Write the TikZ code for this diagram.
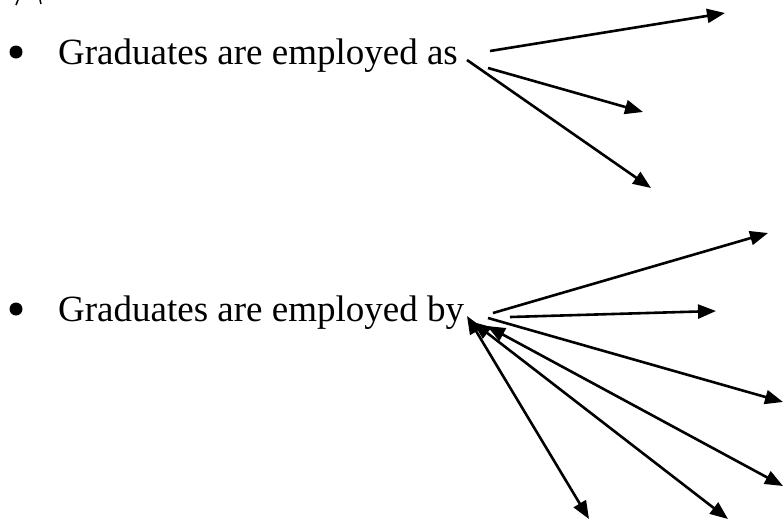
\documentclass[tikz,border=0pt]{standalone}
\usepackage{fontspec}
\setmainfont{Liberation Serif}
\usetikzlibrary{arrows.meta}

\begin{document}
\begin{tikzpicture}[x=1pt, y=-1pt,
  >={Triangle[length=18pt, width=14pt]},
  item/.style={anchor=base west, inner sep=0pt, font=\fontsize{37}{44}\selectfont},
  dot/.style={circle, fill=black, inner sep=0pt, minimum size=13pt},
  arr/.style={->, line width=2.6pt},
  darr/.style={<->, line width=2.6pt},
]

% Page frame
\useasboundingbox (0,0) rectangle (784,520);

% Cut-off glyph at the top edge
\draw[line width=1.5pt] (18,0) -- (16,5);
\draw[line width=1.5pt] (40,0) -- (41,4);

% =============================================
% Item 1: employed as
% =============================================
\node[dot] (dotas) at (16,52) {};
\node[item] (as) at (58,64) {Graduates are employed as};

\coordinate (as1s) at (490,51);
\coordinate (as1e) at (725,13);
\coordinate (as2s) at (488,68);
\coordinate (as2e) at (643,112);
\coordinate (as3s) at (467,60);
\coordinate (as3e) at (651,188);

\draw[arr] (as1s) -- (as1e);
\draw[arr] (as2s) -- (as2e);
\draw[arr] (as3s) -- (as3e);

% =============================================
% Item 2: employed by
% =============================================
\node[dot] (dotby) at (16,309) {};
\node[item] (by) at (58,321) {Graduates are employed by};

\coordinate (by1s) at (493,313);
\coordinate (by1e) at (768,233);
\coordinate (by2s) at (510,317);
\coordinate (by2e) at (716,311);
\coordinate (by3s) at (488,318);
\coordinate (by3e) at (783,402);
\coordinate (by4s) at (487,326);
\coordinate (by4e) at (783,486);
\coordinate (by5s) at (473,322);
\coordinate (by5e) at (728,519);
\coordinate (by6s) at (467,316);
\coordinate (by6e) at (589,519);

\draw[arr] (by1s) -- (by1e);
\draw[arr] (by2s) -- (by2e);
\draw[arr] (by3s) -- (by3e);
\draw[darr] (by4s) -- (by4e);
\draw[darr] (by5s) -- (by5e);
\draw[darr] (by6s) -- (by6e);

\end{tikzpicture}
\end{document}
